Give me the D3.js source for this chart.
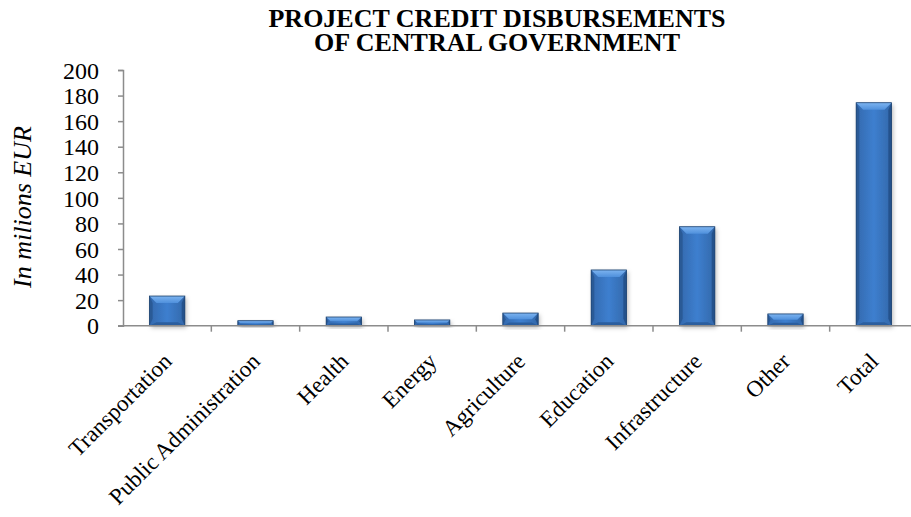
<!DOCTYPE html>
<html>
<head>
<meta charset="utf-8">
<script src="https://cdn.jsdelivr.net/npm/d3@7"></script>
<style>
html,body{margin:0;padding:0;background:#fff;}
svg{display:block;}
</style>
</head>
<body>
<svg id="chart" width="911" height="517"></svg>
<script>
const categories = ["Transportation","Public Administration","Health","Energy","Agriculture","Education","Infrastructure","Other","Total"];
const values = [23.2, 3.9, 6.8, 4.5, 9.9, 43.6, 77.4, 9.2, 174.4];
const yTicks = [0,20,40,60,80,100,120,140,160,180,200];
const titleLines = ["PROJECT CREDIT DISBURSEMENTS","OF CENTRAL GOVERNMENT"];
const yLabel = "In milions EUR";

const svg = d3.select("#chart");
const W = 911, H = 517;
const m = {left: 123, right: -7, top: 70, bottom: 191};
const x = d3.scaleBand().domain(categories).range([m.left, W - m.right]).paddingInner(0.6).paddingOuter(0.3);
const y = d3.scaleLinear().domain([0,200]).range([325.7, 70]);
const serif = "'Liberation Serif','Times New Roman',Times,serif";

const defs = svg.append("defs");
const f = defs.append("filter").attr("id","sh").attr("x","-30%").attr("y","-30%").attr("width","160%").attr("height","160%");
f.append("feDropShadow").attr("dx",1.5).attr("dy",2).attr("stdDeviation",2.2).attr("flood-color","#000").attr("flood-opacity",0.28);
const g1 = defs.append("linearGradient").attr("id","face").attr("x1","0").attr("x2","1").attr("y1","0").attr("y2","0");
g1.append("stop").attr("offset","0").attr("stop-color","#3469ae");
g1.append("stop").attr("offset","0.5").attr("stop-color","#3d7fcf");
g1.append("stop").attr("offset","1").attr("stop-color","#3368aa");
const g2 = defs.append("linearGradient").attr("id","top").attr("x1","0").attr("x2","0").attr("y1","0").attr("y2","1");
g2.append("stop").attr("offset","0").attr("stop-color","#7db4f0");
g2.append("stop").attr("offset","1").attr("stop-color","#4f90dc");

// title (two lines)
titleLines.forEach((t,i)=> svg.append("text").attr("text-anchor","middle")
  .style("font-family",serif).style("font-weight","bold").style("font-size","26px").attr("fill","#000")
  .attr("x",497).attr("y",27 + i*24).text(t));

// y label
svg.append("text").attr("transform","translate(31,207) rotate(-90)").attr("text-anchor","middle")
  .style("font-family",serif).style("font-style","italic").style("font-size","26px")
  .text(yLabel);

// bars
const bars = svg.append("g");
values.forEach((v,i)=>{
  const c = categories[i];
  const x0 = x(c), w = x.bandwidth();
  const y0 = y(v), y1 = y(0), h = y1 - y0;
  const b = Math.min(7, h/2, w/2);
  const g = bars.append("g");
  g.append("rect").attr("x",x0).attr("y",y0).attr("width",w).attr("height",h).attr("fill","url(#face)").attr("filter","url(#sh)");
  g.append("polygon").attr("points",[[x0,y0],[x0+b*0.45,y0+b],[x0+b*0.45,y1-b],[x0,y1]].join(" ")).attr("fill","#2a5a96");
  g.append("polygon").attr("points",[[x0+w,y0],[x0+w-b*0.45,y0+b],[x0+w-b*0.45,y1-b],[x0+w,y1]].join(" ")).attr("fill","#24528c");
  g.append("polygon").attr("points",[[x0,y1],[x0+b,y1-b*0.5],[x0+w-b,y1-b*0.5],[x0+w,y1]].join(" ")).attr("fill","#2b5e9e");
  g.append("polygon").attr("points",[[x0,y0],[x0+w,y0],[x0+w-b,y0+b],[x0+b,y0+b]].join(" ")).attr("fill","url(#top)");
  g.append("rect").attr("x",x0).attr("y",y0).attr("width",w).attr("height",h).attr("fill","none").attr("stroke","#1d426f").attr("stroke-width",0.8);
});

// y axis
const yAxis = d3.axisLeft(y).tickValues(yTicks).tickSize(5).tickPadding(5);
const ya = svg.append("g").attr("transform",`translate(${m.left},0)`).call(yAxis);
ya.select(".domain").attr("stroke","#8c8c8c").attr("stroke-width",1.5);
ya.selectAll(".tick line").attr("stroke","#8c8c8c").attr("stroke-width",1.5);
ya.selectAll(".tick text").style("font-family",serif).style("font-size","24px").attr("fill","#000").attr("dy","0.34em").attr("x",-24);

// x axis
const bw = x.step();
const xa = svg.append("g").attr("transform",`translate(0,${y(0)})`);
xa.append("line").attr("x1",m.left-5).attr("x2",W).attr("y1",0).attr("y2",0).attr("stroke","#8c8c8c").attr("stroke-width",1.5);
categories.forEach((c,i)=>{
  const tx = x(c) + x.bandwidth()/2 + bw/2;
  xa.append("line").attr("x1",tx).attr("x2",tx).attr("y1",0).attr("y2",6).attr("stroke","#8c8c8c").attr("stroke-width",1.5);
});
categories.forEach((c)=>{
  const cx = x(c) + x.bandwidth()/2;
  xa.append("text").attr("transform",`translate(${cx+6},${37}) rotate(-45)`).attr("text-anchor","end")
    .style("font-family",serif).style("font-size","23px").text(c);
});
</script>
</body>
</html>
